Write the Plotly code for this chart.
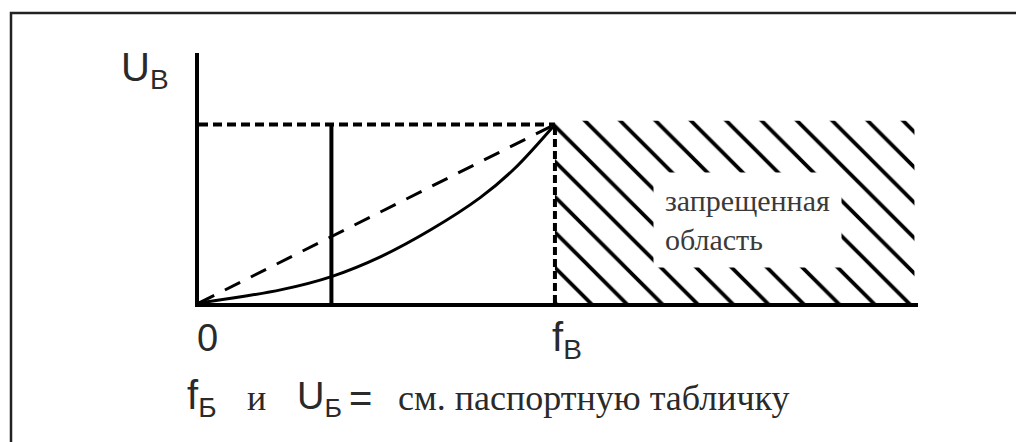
import plotly.graph_objects as go

# Frequency axis in units of f_B, voltage axis in units of U_B
curve_f = [0.0, 0.232, 0.372, 0.511, 0.651, 0.79, 0.883, 1.0]
curve_u = [0.0, 0.075, 0.148, 0.26, 0.41, 0.59, 0.746, 1.0]

linear_f = [0.0, 1.0]
linear_u = [0.0, 1.0]

rated_f = 1.0
rated_u = 1.0
marker_f = 0.372          # solid vertical reference line
zone_f = [1.0, 2.01]      # forbidden (hatched) frequency band

x_ticks = [0.0, 1.0]
x_ticktext = ["0", "f<sub>B</sub>"]

SANS = "Liberation Sans, Arial, sans-serif"
SERIF = "Liberation Serif, Times New Roman, serif"
TXT = "#2a2a2a"

fig = go.Figure()

# hatched forbidden zone
fig.add_trace(go.Scatter(
    x=[zone_f[0], zone_f[1], zone_f[1], zone_f[0], zone_f[0]],
    y=[0, 0, rated_u * 1.02, rated_u * 1.02, 0],
    mode="lines", fill="toself", fillcolor="white",
    fillpattern=dict(shape="\\", size=25, solidity=0.15, fgcolor="black",
                     bgcolor="white", fgopacity=1),
    line=dict(width=0), hoverinfo="skip", showlegend=False))

# rated voltage level (dashed) and rated frequency (dotted)
fig.add_trace(go.Scatter(x=[0, rated_f], y=[rated_u, rated_u], mode="lines",
                         line=dict(color="black", width=4, dash="9px,5px"),
                         showlegend=False, hoverinfo="skip"))
fig.add_trace(go.Scatter(x=[rated_f, rated_f], y=[0, rated_u], mode="lines",
                         line=dict(color="black", width=4, dash="8px,4px"),
                         showlegend=False, hoverinfo="skip"))

# solid vertical line
fig.add_trace(go.Scatter(x=[marker_f, marker_f], y=[0, rated_u], mode="lines",
                         line=dict(color="black", width=4),
                         showlegend=False, hoverinfo="skip"))

# linear U/f characteristic (dashed)
fig.add_trace(go.Scatter(x=linear_f, y=linear_u, mode="lines",
                         line=dict(color="black", width=3, dash="17px,12px"),
                         showlegend=False, hoverinfo="skip"))

# quadratic-like characteristic (solid)
fig.add_trace(go.Scatter(x=curve_f, y=curve_u, mode="lines", line_shape="spline",
                         line=dict(color="black", width=3),
                         showlegend=False, hoverinfo="skip"))

annotations = [
    # axis name
    dict(x=0, y=1.4, xref="x", yref="y", xanchor="right", yanchor="top",
         xshift=-28, yshift=10, showarrow=False,
         text="U<sub>B</sub>", font=dict(family=SANS, size=40, color=TXT)),
    # tick labels
    dict(x=x_ticks[0], y=0, xref="x", yref="y", xanchor="left", yanchor="top",
         xshift=-4, yshift=-12, showarrow=False,
         text=x_ticktext[0], font=dict(family=SANS, size=38, color=TXT)),
    dict(x=x_ticks[1], y=0, xref="x", yref="y", xanchor="left", yanchor="top",
         xshift=-5, yshift=-10, showarrow=False,
         text=x_ticktext[1], font=dict(family=SANS, size=40, color=TXT)),
    # zone label on white background
    dict(x=1.275, y=0.735, xref="x", yref="y", xanchor="left", yanchor="top",
         showarrow=False, align="left", bgcolor="white", borderpad=11,
         text="запрещенная<br>область", font=dict(family=SERIF, size=30, color="#3a3a3a")),
]

fig.update_layout(
    width=1016, height=442,
    margin=dict(l=199, r=98, t=53, b=139),
    paper_bgcolor="white", plot_bgcolor="white",
    xaxis=dict(range=[0, 2.02], showgrid=False, zeroline=False, showticklabels=False,
               showline=True, linecolor="black", linewidth=4, ticks=""),
    yaxis=dict(range=[0, 1.4], showgrid=False, zeroline=False, showticklabels=False,
               showline=True, linecolor="black", linewidth=4, ticks=""),
)

# footnote pieces, placed in paper coordinates relative to the plot area
pw, ph = 1016 - 199 - 98, 442 - 53 - 139


def px(xp):
    return (xp - 199) / pw


def py(yp):
    return (442 - 139 - yp) / ph


foot = [
    (185, "f<sub>Б</sub>", SANS, 40, 398),
    (245, "и", SERIF, 36, 398),
    (295, "U<sub>Б</sub>", SANS, 38, 399),
    (347, "=", SANS, 40, 398),
    (396, "см. паспортную табличку", SERIF, 36, 398),
]
for xp, txt, fam, sz, yp in foot:
    annotations.append(dict(x=px(xp), y=py(yp), xref="paper", yref="paper",
                            xanchor="left", yanchor="middle", showarrow=False,
                            text=txt, font=dict(family=fam, size=sz, color=TXT)))

fig.update_layout(annotations=annotations)

# outer frame
fig.add_shape(type="rect", xref="paper", yref="paper",
              x0=px(11), x1=px(1030), y0=py(450), y1=py(13),
              line=dict(color="#222", width=2.5), fillcolor="rgba(0,0,0,0)", layer="below")

fig.write_html("out.html")
